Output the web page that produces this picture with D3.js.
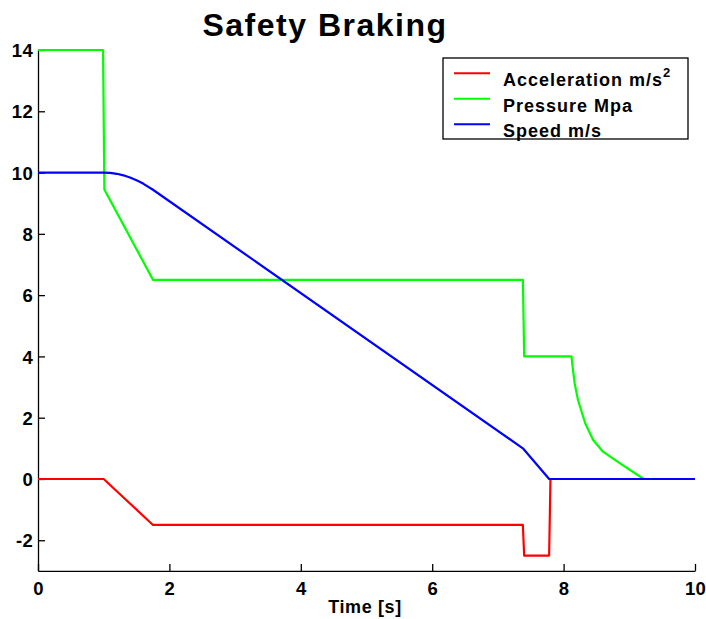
<!DOCTYPE html>
<html>
<head>
<meta charset="utf-8">
<script src="https://cdn.jsdelivr.net/npm/d3@7"></script>
<style>
body { margin: 0; background: #fff; }
text { font-family: Arial, "Liberation Sans", sans-serif; font-weight: bold; fill: #000; }
</style>
</head>
<body>
<script>
// values: [time s, value]
var accel = [[0,0],[1.0,0],[1.75,-1.5],[7.38,-1.5],[7.4,-2.5],[7.78,-2.5],[7.8,0],[10,0]];
var pressure = [[0,14],[0.99,14],[1.01,9.45],[1.75,6.5],[7.38,6.5],[7.4,4.0],[8.12,4.0],[8.14,3.6],[8.17,3.1],
                [8.22,2.57],[8.33,1.81],[8.45,1.27],[8.6,0.89],[8.86,0.51],[9.22,0],[10,0]];
var speed = [[0,10],[1.0,10],[1.1,9.99],[1.2,9.96],[1.3,9.91],[1.4,9.84],[1.5,9.75],[1.6,9.64],[1.75,9.44],
             [7.38,1.0],[7.78,0],[10,0]];
var seriesNames = ["Acceleration m/s", "Pressure Mpa", "Speed m/s"];
var seriesColors = ["#ff0000","#00ff00","#0000ff"];
var xTicks = [0,2,4,6,8,10];
var yTicks = [-2,0,2,4,6,8,10,12,14];

var svg = d3.select("body").append("svg").attr("width",706).attr("height",619);

var x = d3.scaleLinear().domain([0,10]).range([38,695]);
var y = d3.scaleLinear().domain([-3,14]).range([570.9,50]);

// plain hyphen for negatives, like the original
var fmt = function(d){ return String(d); };

var xAxis = d3.axisBottom(x).tickValues(xTicks).tickFormat(fmt).tickSizeInner(-7).tickSizeOuter(0).tickPadding(14);
var yAxis = d3.axisLeft(y).tickValues(yTicks).tickFormat(fmt).tickSizeInner(-7).tickSizeOuter(0).tickPadding(13);

var gx = svg.append("g").attr("transform","translate(0,570.9)").call(xAxis);
var gy = svg.append("g").attr("transform","translate(38,0)").call(yAxis);
[gx,gy].forEach(function(g){
  g.select(".domain").attr("stroke","#000").attr("stroke-width",1.3);
  g.selectAll(".tick line").attr("stroke","#000").attr("stroke-width",1.3);
  g.selectAll(".tick text").attr("font-size",18.5).attr("font-family","Arial, 'Liberation Sans', sans-serif")
    .attr("font-weight","bold").attr("fill","#000").style("letter-spacing","0.3px");
});
gx.selectAll(".tick text").attr("dy","0.55em");
gy.selectAll(".tick text").attr("dx","8").attr("dy","0.36em");

var line = d3.line().x(function(d){return x(d[0]);}).y(function(d){return y(d[1]);});

[accel, pressure, speed].forEach(function(s,i){
  svg.append("path").datum(s)
    .attr("d",line)
    .attr("fill","none")
    .attr("stroke",seriesColors[i])
    .attr("stroke-width",2.2)
    .attr("stroke-linejoin","round");
});

// title and label
svg.append("text").attr("x",325).attr("y",36).attr("text-anchor","middle")
  .attr("font-size",32).style("letter-spacing","1.5px").text("Safety Braking");
svg.append("text").attr("x",365).attr("y",613).attr("text-anchor","middle")
  .attr("font-size",18).style("letter-spacing","0.6px").text("Time [s]");

// legend
var leg = svg.append("g");
leg.append("rect").attr("x",443).attr("y",58).attr("width",245).attr("height",81)
  .attr("fill","#fff").attr("stroke","#000").attr("stroke-width",1.3);
seriesNames.forEach(function(n,i){
  var ly = 73.3 + i*25.5;
  leg.append("line").attr("x1",454).attr("x2",490).attr("y1",ly).attr("y2",ly)
    .attr("stroke",seriesColors[i]).attr("stroke-width",2);
  var t = leg.append("text").attr("x",503).attr("y",ly+13).attr("font-size",18)
    .style("letter-spacing","1px").text(n);
  if (i === 0) {
    t.append("tspan").attr("dy",-9).attr("font-size",13).text("2");
  }
});
</script>
</body>
</html>
